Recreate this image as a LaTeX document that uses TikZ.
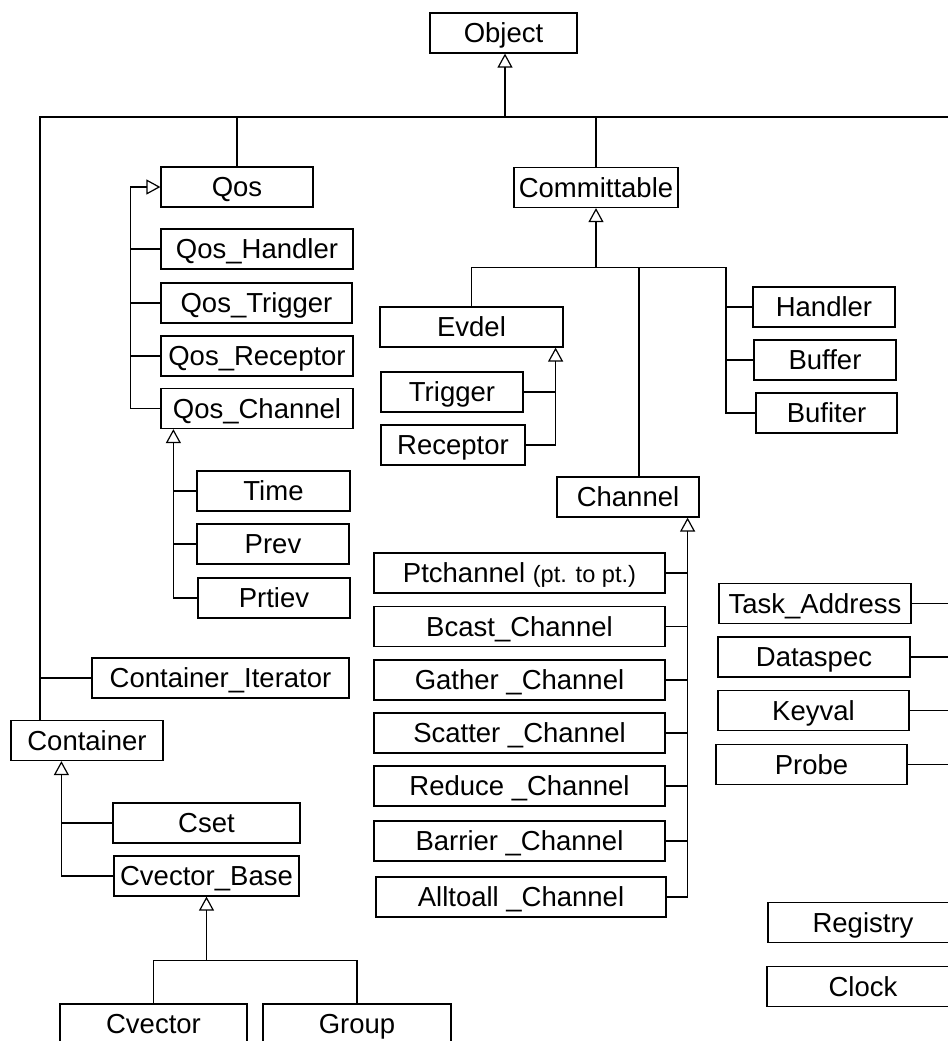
\documentclass[tikz,border=0pt]{standalone}
\usepackage{fontspec}
\setmainfont{Liberation Sans}
\usetikzlibrary{arrows.meta}

\begin{document}
\begin{tikzpicture}[x=0.5pt, y=-0.5pt, line width=0.6pt,
    cls/.style={draw, minimum height=20pt, inner sep=0pt, text height=9.8pt, text depth=0pt,
        font=\fontsize{13.75pt}{16pt}\selectfont},
    boxw/.style={minimum width=#1*0.5pt},
    inh/.style={-{Triangle[open, length=7pt, width=7.5pt]}}]
            \useasboundingbox (0,0) rectangle (948,1041);
            \clip (0,0) rectangle (948,1041);

            \node[cls, boxw=147] (object) at (503.5,33) {Object};
            \node[cls, boxw=152] (qos) at (237,187) {Qos};
            \node[cls, boxw=164] (committable) at (596,187.5) {Committable};

            \node[cls, boxw=192] (qoshandler) at (257,249) {Qos\_Handler};
            \node[cls, boxw=191] (qostrigger) at (256.5,303) {Qos\_Trigger};
            \node[cls, boxw=192] (qosreceptor) at (257,356) {Qos\_Receptor};
            \node[cls, boxw=192] (qoschannel) at (257,408.5) {Qos\_Channel};
            \node[cls, boxw=153] (time) at (273.5,491) {Time};
            \node[cls, boxw=152] (prev) at (273,544) {Prev};
            \node[cls, boxw=152] (prtiev) at (274,598) {Prtiev};

            \node[cls, boxw=257] (contiter) at (220.5,678) {Container\_Iterator};
            \node[cls, boxw=152] (container) at (87,740.5) {Container};
            \node[cls, boxw=187] (cset) at (206.5,823) {Cset};
            \node[cls, boxw=185] (cvecbase) at (206.5,876) {Cvector\_Base};
            \node[cls, boxw=187] (cvector) at (153.5,1024) {Cvector};
            \node[cls, boxw=188] (group) at (357,1024) {Group};

            \node[cls, boxw=183] (evdel) at (471.5,327) {Evdel};
            \node[cls, boxw=142] (trigger) at (452,392) {Trigger};
            \node[cls, boxw=144] (receptor) at (453,445) {Receptor};
            \node[cls, boxw=142] (handler) at (824,307) {Handler};
            \node[cls, boxw=142] (buffer) at (825,360) {Buffer};
            \node[cls, boxw=141] (bufiter) at (826.5,413) {Bufiter};

            \node[cls, boxw=142] (channel) at (628,497) {Channel};
            \node[cls, boxw=291] (ptchannel) at (519.5,573) {Ptchannel {\fontsize{11.8pt}{14pt}\selectfont (pt. to pt.)}};
            \node[cls, boxw=291] (bcast) at (519.5,626.5) {Bcast\_Channel};
            \node[cls, boxw=291] (gather) at (519.5,680) {Gather \_Channel};
            \node[cls, boxw=291] (scatter) at (519.5,733) {Scatter \_Channel};
            \node[cls, boxw=291] (reduce) at (519.5,786) {Reduce \_Channel};
            \node[cls, boxw=291] (barrier) at (519.5,841) {Barrier \_Channel};
            \node[cls, boxw=290] (alltoall) at (521,897) {Alltoall \_Channel};

            \node[cls, boxw=192] (taskaddr) at (815,603.5) {Task\_Address};
            \node[cls, boxw=192] (dataspec) at (814,657) {Dataspec};
            \node[cls, boxw=191] (keyval) at (813.5,710.5) {Keyval};
            \node[cls, boxw=191] (probe) at (811.5,764.5) {Probe};
            \node[cls, boxw=190] (registry) at (863,922.5) {Registry};
            \node[cls, boxw=192] (clock) at (863,986.5) {Clock};

            \coordinate (top) at (505,117);
            \coordinate (lft) at (40,117);
            \coordinate (rgt) at (960,117);

            \draw[inh] (top) -- (top |- object.south);
            \draw (lft |- container.north) -- (lft) -- (rgt);
            \draw (qos.north) -- (qos.north |- top);
            \draw (committable.north) -- (committable.north |- top);
            \draw (contiter.west) -- (contiter.west -| lft);

            \draw[inh] (qoschannel.west) -- ++(-30,0) |- (qos.west);
            \foreach \n in {qoshandler,qostrigger,qosreceptor}
                \draw (\n.west) -- ++(-30,0);

            \draw[inh] (prtiev.west) -- ++(-24,0) coordinate (qc) -- (qc |- qoschannel.south);
            \draw (time.west) -- (time.west -| qc);
            \draw (prev.west) -- (prev.west -| qc);

            \draw[inh] (cvecbase.west) -- ++(-52,0) coordinate (cb) -- (cb |- container.south);
            \draw (cset.west) -- (cset.west -| cb);

            \draw (cvector.north) -- ++(0,-43) coordinate (cv) -- (cv -| group.north) -- (group.north);
            \draw[inh] (cv -| cvecbase.south) -- (cvecbase.south);

            \draw ([xshift=5.5pt]channel.north) -- ++(0,-209) coordinate (cm);
            \draw (evdel.north) |- (cm) -- ++(87,0) coordinate (cr) |- (bufiter.west);
            \draw (handler.west) -- (handler.west -| cr);
            \draw (buffer.west) -- (buffer.west -| cr);
            \draw[inh] (cm -| committable.south) -- (committable.south);

            \draw[inh] (receptor.east) -- ++(30,0) coordinate (ev) -- (ev |- evdel.south);
            \draw (trigger.east) -- (trigger.east -| ev);

            \draw[inh] (alltoall.east) -- ++(21,0) coordinate (ch) -- (ch |- channel.south);
            \foreach \n in {ptchannel,bcast,gather,scatter,reduce,barrier}
                \draw (\n.east) -- (\n.east -| ch);

            \foreach \n in {taskaddr,dataspec,keyval,probe}
                \draw (\n.east) -- (\n.east -| rgt);
        \end{tikzpicture}
\end{document}
